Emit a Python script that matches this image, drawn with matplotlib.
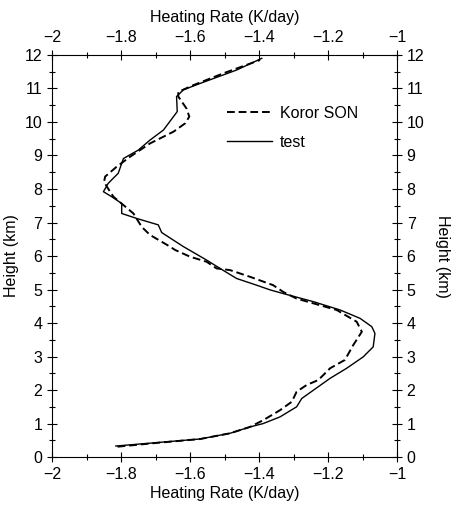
import matplotlib
matplotlib.use("Agg")
import matplotlib.pyplot as plt
from matplotlib.ticker import MultipleLocator

plt.rcParams['font.family'] = ['Liberation Sans', 'DejaVu Sans']

# Koror SON (dashed)
koror_x = [-1.81, -1.70, -1.57, -1.484, -1.426, -1.388, -1.339, -1.305, -1.291, -1.262,
           -1.228, -1.194, -1.151, -1.127, -1.102, -1.117, -1.175, -1.291, -1.330, -1.359,
           -1.426, -1.484, -1.523, -1.552, -1.600, -1.643, -1.658, -1.716, -1.740, -1.764,
           -1.822, -1.841, -1.849, -1.846, -1.812, -1.774, -1.716, -1.648, -1.614, -1.602,
           -1.610, -1.634, -1.634, -1.590, -1.504, -1.397]
koror_y = [0.31, 0.42, 0.54, 0.71, 0.90, 1.10, 1.40, 1.65, 1.95, 2.15,
           2.30, 2.65, 2.90, 3.34, 3.74, 4.04, 4.39, 4.73, 4.93, 5.13,
           5.38, 5.58, 5.63, 5.83, 5.98, 6.18, 6.28, 6.63, 6.87, 7.27,
           7.77, 8.07, 8.22, 8.37, 8.67, 8.96, 9.36, 9.71, 9.96, 10.16,
           10.40, 10.76, 10.90, 11.10, 11.45, 11.85]

# test (solid)
test_x = [-1.815, -1.571, -1.484, -1.426, -1.388, -1.339, -1.291, -1.276, -1.194, -1.146,
          -1.098, -1.069, -1.064, -1.073, -1.107, -1.165, -1.243, -1.330, -1.368, -1.407,
          -1.465, -1.513, -1.552, -1.619, -1.682, -1.692, -1.754, -1.798, -1.798, -1.827,
          -1.851, -1.837, -1.808, -1.793, -1.750, -1.716, -1.677, -1.637, -1.639, -1.619,
          -1.571, -1.465, -1.392]
test_y = [0.33, 0.54, 0.71, 0.90, 1.00, 1.20, 1.50, 1.75, 2.35, 2.65,
          2.99, 3.29, 3.69, 3.89, 4.14, 4.39, 4.64, 4.88, 4.99, 5.13,
          5.33, 5.63, 5.88, 6.28, 6.70, 6.93, 7.12, 7.27, 7.57, 7.77,
          7.92, 8.17, 8.47, 8.91, 9.16, 9.46, 9.76, 10.31, 10.76, 10.96,
          11.15, 11.55, 11.90]

xticks = [-2, -1.8, -1.6, -1.4, -1.2, -1]
xticklabels = ['\u22122', '\u22121.8', '\u22121.6', '\u22121.4', '\u22121.2', '\u22121']
yticks = list(range(0, 13))

FS = 11.5

fig = plt.figure(figsize=(4.61, 5.09), dpi=100)
ax = fig.add_axes([0.1128, 0.102, 0.7484, 0.790])

ax.plot(koror_x, koror_y, color='black', lw=1.4, linestyle=(0, (4, 2)), label='Koror SON')
ax.plot(test_x, test_y, color='black', lw=1.0, label='test')

ax.set_xlim(-2, -1)
ax.set_ylim(0, 12)
ax.set_xticks(xticks)
ax.set_xticklabels(xticklabels)
ax.set_yticks(yticks)
ax.xaxis.set_minor_locator(MultipleLocator(0.1))
ax.yaxis.set_minor_locator(MultipleLocator(0.5))
ax.tick_params(which='both', direction='inout', top=True, right=True,
               labeltop=True, labelright=True, labelsize=FS, width=0.8)
ax.tick_params(which='major', length=7)
ax.tick_params(which='minor', length=4)
for s in ax.spines.values():
    s.set_linewidth(0.8)

ax.set_xlabel('Heating Rate (K/day)', fontsize=FS, labelpad=3)
ax.set_ylabel('Height (km)', fontsize=FS, labelpad=4)

ax2 = ax.secondary_xaxis('top')
ax2.set_xticks([])
ax2.set_xlabel('Heating Rate (K/day)', fontsize=FS, labelpad=24)
ax2.spines['top'].set_visible(False)

ax3 = ax.secondary_yaxis('right')
ax3.set_yticks([])
ax3.set_ylabel('Height (km)', fontsize=FS, rotation=-90, labelpad=38)
ax3.spines['right'].set_visible(False)

leg = ax.legend(loc='upper left', bbox_to_anchor=(0.465, 0.91), frameon=False,
                fontsize=FS, handlelength=2.8, labelspacing=0.9, handletextpad=0.5)

fig.savefig('out.png', dpi=100)
